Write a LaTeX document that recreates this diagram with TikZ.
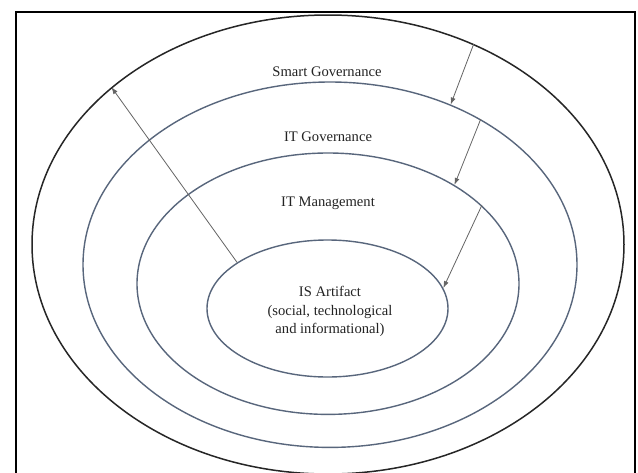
\documentclass[tikz,border=0pt]{standalone}
\usepackage{fontspec}
\setmainfont{Liberation Serif}
\usetikzlibrary{shapes.geometric,arrows.meta}
\definecolor{ringblue}{RGB}{88,102,124}
\definecolor{arrowgray}{RGB}{100,100,100}
\definecolor{textgray}{RGB}{35,35,35}
\begin{document}
\begin{tikzpicture}[x=1pt,y=-1pt,
  ring/.style={draw=ringblue, line width=1.4pt, ellipse, inner sep=0pt},
  outerring/.style={draw=black!85, line width=1.5pt, ellipse, inner sep=0pt},
  flow/.style={draw=arrowgray, line width=0.8pt, -{Latex[length=7pt,width=5pt]}},
  lbl/.style={text=textgray, font=\fontsize{14.6}{18}\selectfont, align=center, inner sep=0pt, anchor=base}]
\useasboundingbox (0,0) rectangle (638,472);
\clip (0,0) rectangle (638,472);
\fill[white] (0,0) rectangle (638,472);
\draw[line width=2.6pt] (16,482) -- (16,12) -- (635,12) -- (635,482);
\node[outerring, minimum width=592pt, minimum height=459pt] (smart) at (328,244.5) {};
\node[ring, minimum width=494pt, minimum height=365.4pt] (itgov) at (330,264.7) {};
\node[ring, minimum width=382pt, minimum height=261.4pt] (itman) at (328,283.7) {};
\node[ring, minimum width=241pt, minimum height=137pt] (isart) at (327.5,308.5) {};
\node[lbl] (tsmart) at (327,76.5) {Smart Governance};
\node[lbl] (titgov) at (328,141.5) {IT Governance};
\node[lbl] (titman) at (328,206.5) {IT Management};
\node[lbl] (tisart) at (330,296.5) {IS Artifact};
\node[lbl] (tissub) at (330,333.5) {(social, technological\\and informational)};
\draw[flow] (smart.54.4) -- (itgov.53);
\draw[flow] (itgov.44) -- (itman.38.1);
\draw[flow] (itman.27.4) -- (isart.10.1);
\draw[flow] (isart.153.8) -- (smart.144.4);
\end{tikzpicture}
\end{document}
